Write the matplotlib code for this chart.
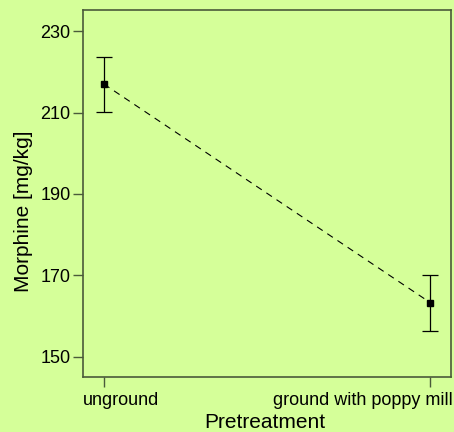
import matplotlib
matplotlib.use("Agg")
import matplotlib.pyplot as plt

# datos
groups = ["unground", "ground with poppy mill"]
means = [217.0, 163.3]
err_low = [6.8, 6.9]
err_high = [6.6, 6.7]
yticks = [150, 170, 190, 210, 230]

plt.rcParams['font.family'] = ['Liberation Sans', 'DejaVu Sans']
bg = "#d5ff99"
axcol = "#4a5a3a"

fig = plt.figure(figsize=(4.54, 4.32), dpi=100, facecolor=bg)
ax = fig.add_axes([83/454, 1 - 377/432, (451-83)/454, (377-10)/432])
ax.set_facecolor(bg)

x = [1, 2]
ax.plot(x, means, linestyle=(0, (6, 5)), color="black", linewidth=0.8)
ax.errorbar(x, means, yerr=[err_low, err_high], fmt="s", color="black",
            markersize=5, ecolor="black", elinewidth=0.9, capsize=6, capthick=0.9)

ax.set_xlim(0.936, 2.064)
ax.set_ylim(145, 235.2)
ax.set_xticks(x)
ax.set_xticklabels([])
# etiquetas del eje x desplazadas para que quepan
ax.annotate(groups[0], xy=(x[0], 0), xycoords=ax.get_xaxis_transform(),
            xytext=(-21, -15), textcoords="offset pixels",
            ha="left", va="top", fontsize=13)
ax.annotate(groups[1], xy=(x[1], 0), xycoords=ax.get_xaxis_transform(),
            xytext=(23, -15), textcoords="offset pixels",
            ha="right", va="top", fontsize=13)
ax.set_yticks(yticks)
ax.set_yticklabels([str(v) for v in yticks], fontsize=13)
ax.tick_params(length=7.5, width=1, color=axcol, pad=1.5)
for s in ax.spines.values():
    s.set_color(axcol)
    s.set_linewidth(1.2)

ax.set_xlabel("Pretreatment", fontsize=15)
ax.xaxis.set_label_coords(0.495, -0.098)
ax.set_ylabel("Morphine [mg/kg]", fontsize=15)
ax.yaxis.set_label_coords(-0.137, 0.452)

fig.savefig("out.png", dpi=100, facecolor=bg)
